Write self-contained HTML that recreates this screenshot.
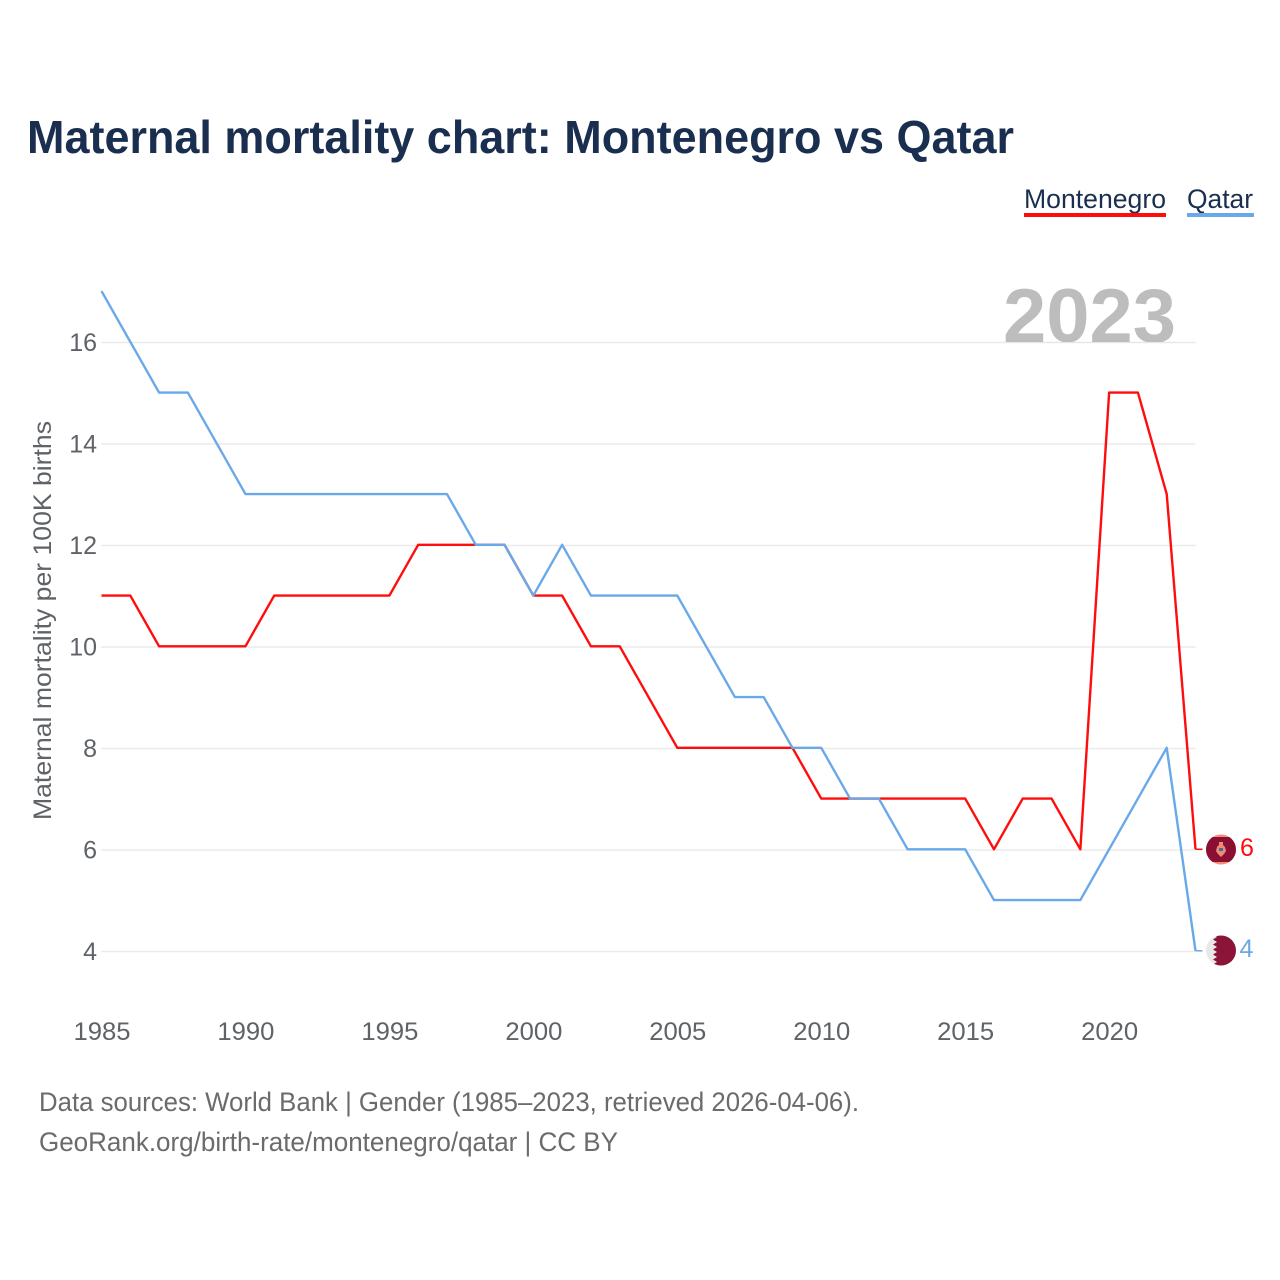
<!DOCTYPE html>
<html>
<head>
<meta charset="utf-8">
<title>Maternal mortality chart: Montenegro vs Qatar</title>
<style>
html,body{margin:0;padding:0;background:#fff;width:1280px;height:1280px;overflow:hidden}
svg{display:block}
text{font-family:"Liberation Sans",sans-serif}
</style>
</head>
<body>
<svg id="chart" xmlns="http://www.w3.org/2000/svg" width="1280" height="1280" viewBox="0 0 1280 1280">
  <rect width="1280" height="1280" fill="#ffffff"/>
  <g id="grid"></g>
  <text x="1003" y="342" font-size="76" font-weight="700" fill="#bdbdbd" textLength="173" lengthAdjust="spacingAndGlyphs">2023</text>
  <rect x="1003" y="342" width="173" height="1" fill="#e6e6e6"/>
  <text x="27" y="153" font-size="46" font-weight="700" fill="#1a2f4f" textLength="987" lengthAdjust="spacingAndGlyphs">Maternal mortality chart: Montenegro vs Qatar</text>
  <g>
    <text x="1024" y="208" font-size="27" fill="#1a2f4f" textLength="142" lengthAdjust="spacingAndGlyphs">Montenegro</text>
    <rect x="1024" y="213" width="142" height="4" fill="#ff0d0d"/>
  </g>
  <g>
    <text x="1187" y="208" font-size="27" fill="#1a2f4f" textLength="66" lengthAdjust="spacingAndGlyphs">Qatar</text>
    <rect x="1187" y="213" width="67" height="4" fill="#6aa9e9"/>
  </g>
  <text transform="translate(51 820) rotate(-90)" font-size="25" fill="#5f6368" textLength="399" lengthAdjust="spacingAndGlyphs">Maternal mortality per 100K births</text>
  <g id="yticks"></g>
  <g id="xticks"></g>
  <g id="series"></g>
  <g>
    <defs><clipPath id="montenegro-clip"><circle cx="1221" cy="849.500" r="15"/></clipPath></defs>
    <g clip-path="url(#montenegro-clip)">
      <rect x="1206" y="834" width="30" height="31" fill="#fb8a7a"/>
      <rect x="1206" y="837" width="30" height="25" fill="#8a1033"/>
    </g>
    <path d="M1219 842h4v3l2 2 1 4-2 3-3 3-3-3-2-3 1-4 2-2z" fill="#f08a78"/>
    <rect x="1219" y="848" width="4" height="3" fill="#3f6f9f"/>
  </g>
  <g>
    <defs><clipPath id="qatar-clip"><circle cx="1221" cy="950.5" r="15"/></clipPath></defs>
    <g clip-path="url(#qatar-clip)">
      <rect x="1206" y="935" width="30" height="31" fill="#e8e8e8"/>
      <path d="M1236 935H1213l4 2-4 2.500 4 2.500-4 2.500 4 2.500-4 2.500 4 2.500-4 2.500 4 2.500-4 2.500 4 2.500-4 2.500 4 2H1236z" fill="#8a1538"/>
    </g>
  </g>
  <text x="1240" y="856" font-size="25" fill="#ff0d0d">6</text>
  <text x="1239.500" y="957" font-size="25" fill="#6aa9e9">4</text>
  <text x="39" y="1111" font-size="27" fill="#6b6b6b" textLength="820" lengthAdjust="spacingAndGlyphs">Data sources: World Bank | Gender (1985–2023, retrieved 2026-04-06).</text>
  <text x="39" y="1151" font-size="27" fill="#6b6b6b" textLength="579" lengthAdjust="spacingAndGlyphs">GeoRank.org/birth-rate/montenegro/qatar | CC BY</text>
</svg>
<script>
const years = [1985,1986,1987,1988,1989,1990,1991,1992,1993,1994,1995,1996,1997,1998,1999,2000,2001,2002,2003,2004,2005,2006,2007,2008,2009,2010,2011,2012,2013,2014,2015,2016,2017,2018,2019,2020,2021,2022,2023];
const montenegro = [11,11,10,10,10,10,11,11,11,11,11,12,12,12,12,11,11,10,10,9,8,8,8,8,8,7,7,7,7,7,7,6,7,7,6,15,15,13,6];
const qatar = [17,16,15,15,14,13,13,13,13,13,13,13,13,12,12,11,12,11,11,11,11,10,9,9,8,8,7,7,6,6,6,5,5,5,5,6,7,8,4];
const yTickValues = [4,6,8,10,12,14,16];
const xTickValues = [1985,1990,1995,2000,2005,2010,2015,2020];

const NS = 'http://www.w3.org/2000/svg';
function xScale(v){ return 101.5 + (v - 1985) * (1195.5 - 101.5) / 38; }
function yScale(v){ return 951.5 - (v - 4) * (951.5 - 342.5) / 12; }
function make(tag, attrs, parent){
  const el = document.createElementNS(NS, tag);
  for (const k in attrs) el.setAttribute(k, attrs[k]);
  parent.appendChild(el);
  return el;
}
const grid = document.getElementById('grid');
const yticks = document.getElementById('yticks');
const xticks = document.getElementById('xticks');
const series = document.getElementById('series');

yTickValues.forEach(function(v){
  const line = make('line', {x1:101, x2:1195.5, y1:yScale(v), y2:yScale(v), stroke:'#ebebeb', 'stroke-width':1.5}, grid);
  
  
  const t = make('text', {x:97, y:yScale(v)+8.5, 'text-anchor':'end', 'font-size':25, fill:'#5f6368'}, yticks);
  
  
  t.textContent = v;
});
xTickValues.forEach(function(v){
  const t = make('text', {x:xScale(v)+0.5, y:1040, 'text-anchor':'middle', 'font-size':25, fill:'#5f6368', textLength:57, lengthAdjust:'spacingAndGlyphs'}, xticks);
  
  
  t.textContent = v;
});
function drawSeries(values, color, name){
  const pts = values.map(function(v,i){ return xScale(years[i]).toFixed(2) + ',' + (yScale(v) - 0.7).toFixed(2); });
  const last = values[values.length-1];
  const end = xScale(years[years.length-1]);
  const line = make('polyline', {points:pts.join(' '), fill:'none', stroke:color, 'stroke-width':2.4, 'stroke-linejoin':'round'}, series);
  
  
  const conn = make('line', {x1:end, x2:end+7, y1:yScale(last)-0.7, y2:yScale(last)-0.7, stroke:color, 'stroke-width':1.5}, series);
  
  
}
drawSeries(montenegro, '#ff0d0d', 'montenegro');
drawSeries(qatar, '#6aa9e9', 'qatar');
</script>
</body>
</html>
